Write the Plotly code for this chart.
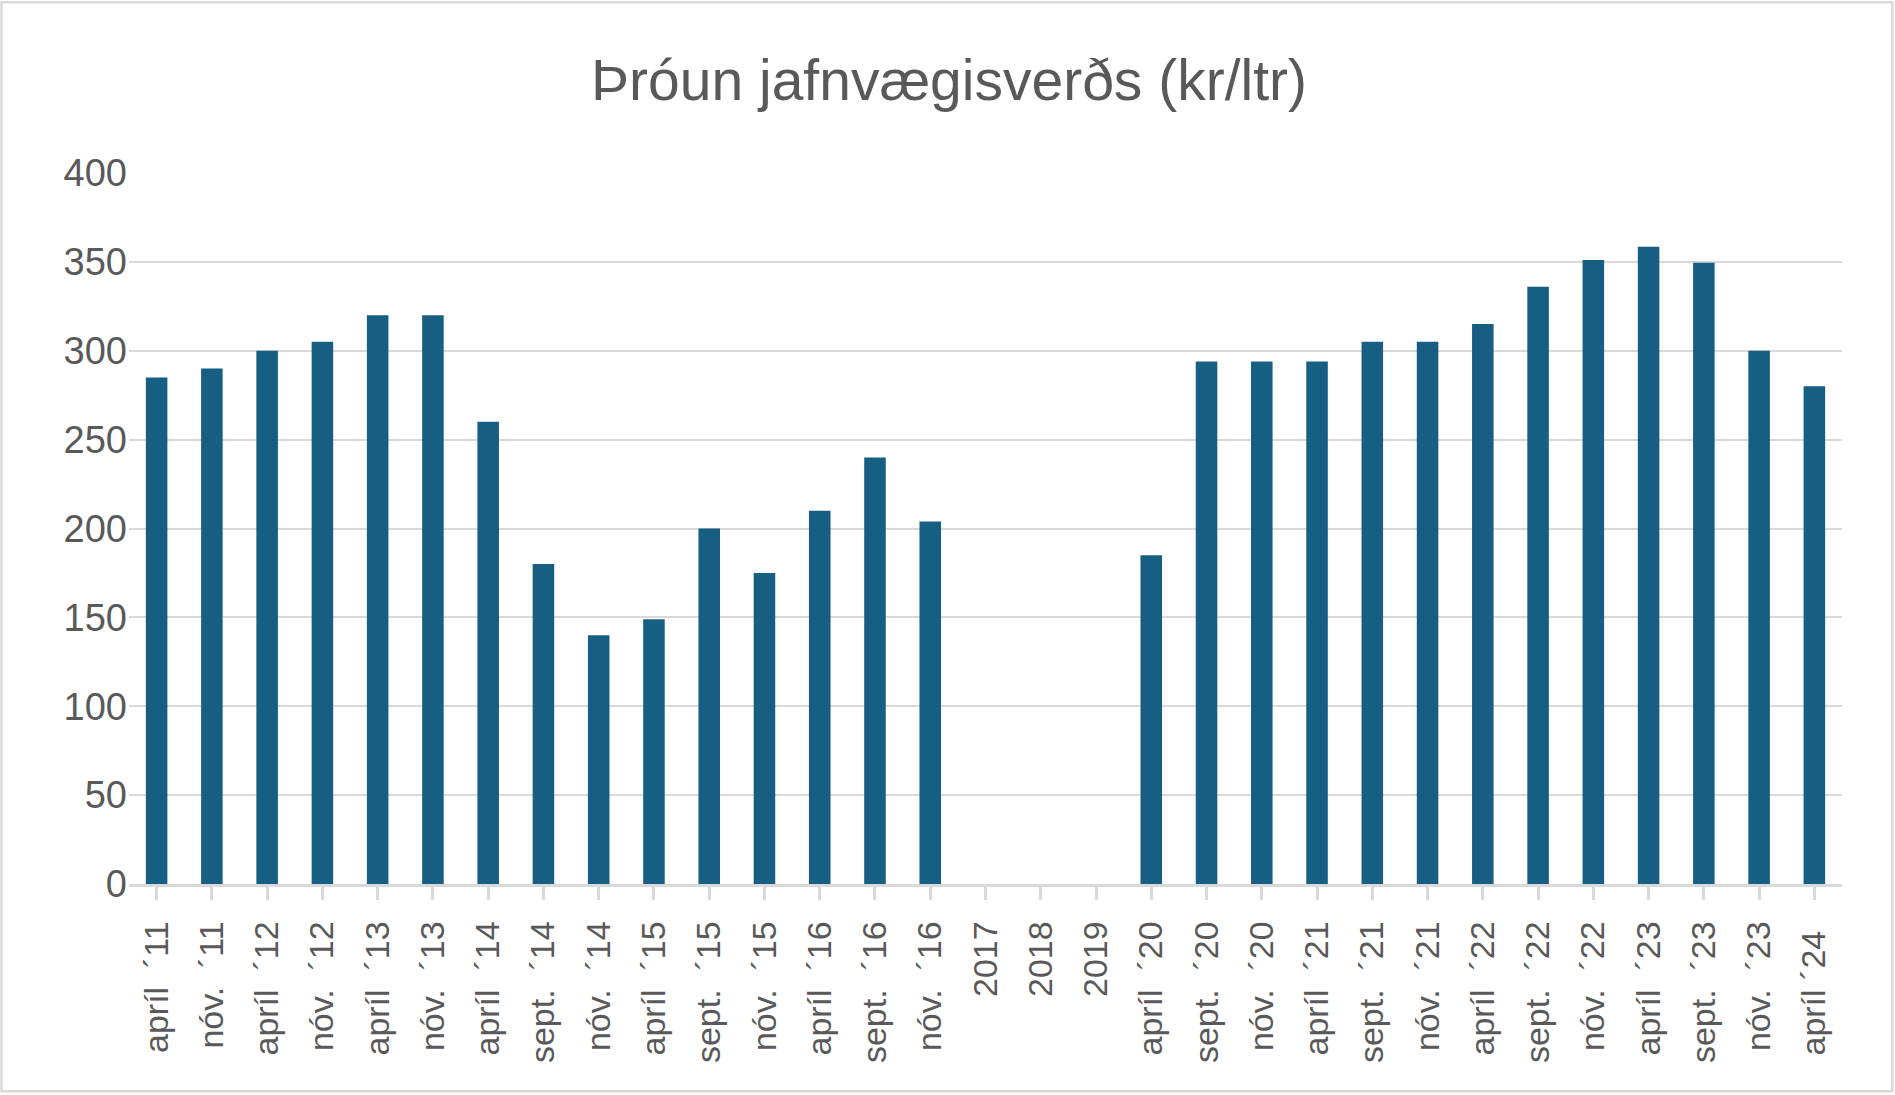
import plotly.graph_objects as go

NB = "\u00a0"

categories = [
    "apríl  ´11", "nóv.  ´11", "apríl  ´12", "nóv.  ´12", "apríl  ´13", "nóv.  ´13",
    "apríl  ´14", "sept.  ´14", "nóv.  ´14", "apríl  ´15", "sept.  ´15", "nóv.  ´15",
    "apríl  ´16", "sept.  ´16", "nóv.  ´16", "2017", "2018", "2019",
    "apríl  ´20", "sept.  ´20", "nóv.  ´20", "apríl  ´21", "sept.  ´21", "nóv.  ´21",
    "apríl  ´22", "sept.  ´22", "nóv.  ´22", "apríl  ´23", "sept.  ´23", "nóv.  ´23",
    "apríl ´24 ",
]
categories = [c.replace(" ", NB) for c in categories]

values = [
    285, 290, 300, 305, 320, 320,
    260, 180, 140, 149, 200, 175,
    210, 240, 204, None, None, None,
    185, 294, 294, 294, 305, 305,
    315, 336, 351, 358.5, 349.5, 300,
    280,
]

y_ticks = [0, 50, 100, 150, 200, 250, 300, 350, 400]
title_text = "Þróun jafnvægisverðs (kr/ltr)"

W, H = 1895, 1095
L, R, T, B = 129, 1841.7, 172.5, 884.5

BAR = "#175F82"
TXT = "#595959"
GRID = "#D9D9D9"

fig = go.Figure()
fig.add_trace(go.Bar(
    x=list(range(len(categories))),
    y=values,
    marker=dict(color=BAR, line=dict(width=0)),
    hoverinfo="skip",
))


def px_to_paper_x(px):
    return (px - L) / (R - L)


def px_to_paper_y(py):
    return (B - py) / (B - T)


fig.update_layout(
    width=W, height=H,
    margin=dict(l=L, r=W - R, t=T, b=H - B, pad=0),
    paper_bgcolor="white", plot_bgcolor="white",
    showlegend=False,
    bargap=0.61,
    font=dict(family="Liberation Sans, Arial, sans-serif", color=TXT),
    title=dict(
        text=title_text,
        x=949 / W, xref="container", xanchor="center",
        y=1 - 80 / H, yref="container", yanchor="middle",
        font=dict(family="Liberation Sans, Arial, sans-serif", size=57, color=TXT),
    ),
    xaxis=dict(
        tickmode="array",
        tickvals=list(range(len(categories))),
        ticktext=categories,
        range=[-0.5, len(categories) - 0.5],
        tickangle=-90,
        showline=True, linecolor=GRID, linewidth=2.5,
        ticks="outside", ticklen=13, tickwidth=2.5, tickcolor=GRID,
        showgrid=False, zeroline=False,
        tickfont=dict(size=34, color=TXT),
        ticklabelstandoff=8,
        tickson="boundaries",
    ),
    yaxis=dict(
        range=[0, 400],
        tickvals=y_ticks,
        ticktext=[str(v) for v in y_ticks],
        showgrid=True, gridcolor=GRID, gridwidth=2,
        zeroline=False, showline=False, ticks="",
        tickfont=dict(size=38, color=TXT),
        ticklabelstandoff=1,
    ),
    shapes=[
        dict(
            type="rect", xref="paper", yref="paper",
            x0=px_to_paper_x(1.5), x1=px_to_paper_x(1892),
            y0=px_to_paper_y(1.5), y1=px_to_paper_y(1092),
            line=dict(color=GRID, width=2.5), fillcolor="rgba(0,0,0,0)",
            layer="below",
        )
    ],
)

fig.write_html(
    "out.html",
    config={"displayModeBar": False},
    post_script="document.body.style.margin='0';document.body.style.overflow='hidden';",
)
